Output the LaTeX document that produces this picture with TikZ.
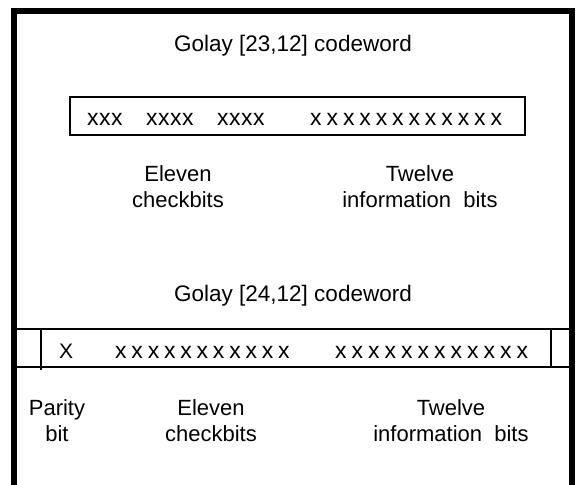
\documentclass[tikz,border=0pt]{standalone}
\usepackage{fontspec}
\setmainfont{Liberation Sans}
\usepackage{tikz}

% a row of n letters x with a gap between them
\newcommand{\xrow}[2]{x\foreach \k in {2,...,#1}{\kern#2 x}}

\begin{document}
\begin{tikzpicture}[x=1pt, y=-1pt,
    title/.style={font=\fontsize{22.5}{27}\selectfont, inner sep=0, anchor=base},
    bits/.style={font=\fontsize{23}{27}\selectfont, inner sep=0, anchor=base west},
    label/.style={font=\fontsize{22}{26}\selectfont, align=center, inner sep=0, anchor=north}]

    \useasboundingbox (0,0) rectangle (579,485);

    % Outer frame (open at the bottom)
    \draw[line width=6] (14,485) -- (14,11) -- (572,11) -- (572,485);

    % Golay [23,12]
    \node[title] (title23) at (293,51) {Golay [23,12] codeword};
    \draw[line width=2] (70,97) rectangle (525,135);
    \node[bits] (check23a) at (87,125) {\xrow{3}{0.5pt}};
    \node[bits] (check23b) at (146,125) {\xrow{4}{0.5pt}};
    \node[bits] (check23c) at (217,125) {\xrow{4}{0.5pt}};
    \node[bits] (info23) at (310,125) {\xrow{12}{4.9pt}};

    \node[label] (eleven23) at (178,165) {Eleven\\checkbits};
    \node[label] (twelve23) at (420,165) {Twelve\\information\ \ bits};

    % Golay [24,12]
    \node[title] (title24) at (293,301) {Golay [24,12] codeword};
    \draw[line width=2] (14,329) -- (572,329);
    \draw[line width=2] (14,367) -- (572,367);
    \draw[line width=2] (41,329) -- (41,370);
    \draw[line width=2] (551,329) -- (551,367);
    \node[bits, font=\fontsize{21}{25}\selectfont] (parity24) at (59,358) {X};
    \node[bits] (check24) at (115,358) {\xrow{11}{4.8pt}};
    \node[bits] (info24) at (335,358) {\xrow{12}{5pt}};

    \node[label] (paritylab) at (57,399) {Parity\\bit};
    \node[label] (eleven24) at (211,399) {Eleven\\checkbits};
    \node[label] (twelve24) at (451,399) {Twelve\\information\ \ bits};

\end{tikzpicture}
\end{document}
